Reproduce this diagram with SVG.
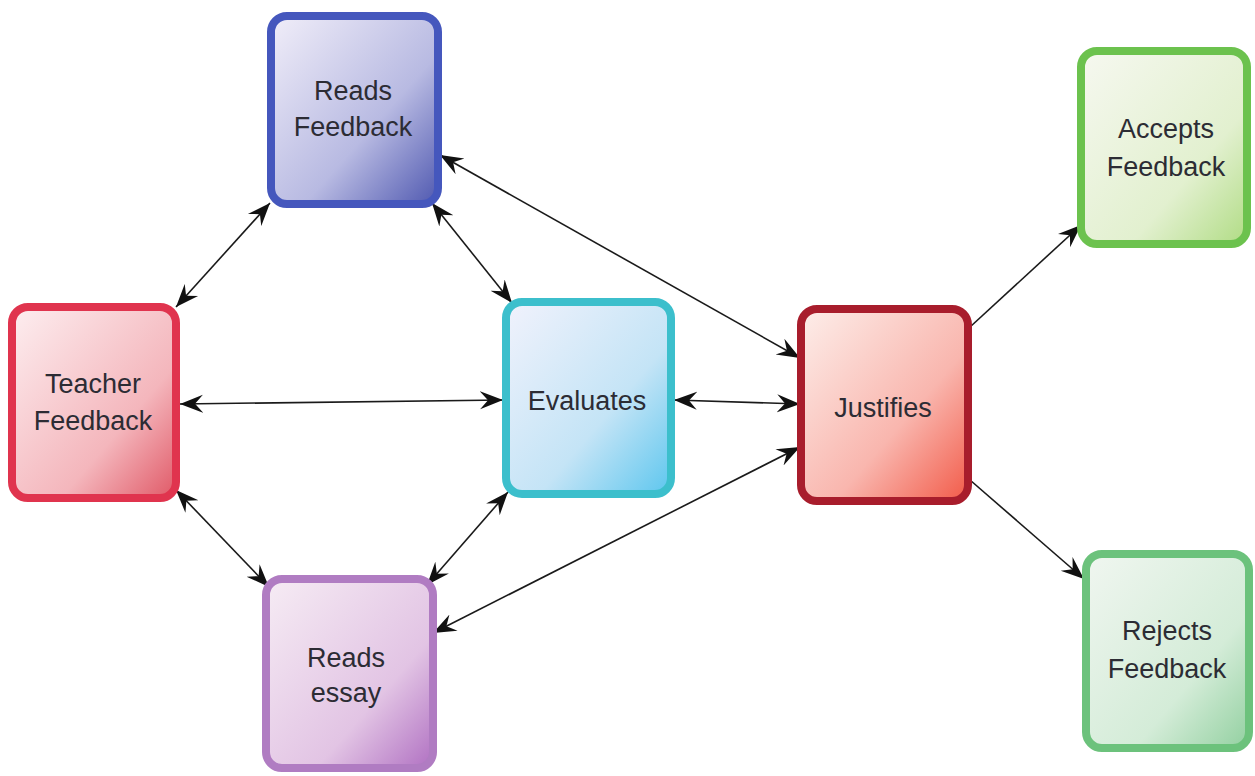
<svg xmlns="http://www.w3.org/2000/svg" width="1255" height="776" viewBox="0 0 1255 776">
<style>
.box{stroke-width:8}
.lbl{font-family:"Liberation Sans",Arial,sans-serif;font-size:27px;fill:#2c2c34;text-anchor:middle}
.edge{stroke:#1a1a1a;stroke-width:1.6;fill:none}
</style>
<defs>
<marker id="ah" viewBox="-23 -10 23 20" refX="0" refY="0" markerWidth="23" markerHeight="20" markerUnits="userSpaceOnUse" orient="auto-start-reverse">
<path d="M0,0 L-23,-9 L-15,0 L-23,9 Z" fill="#111"/>
</marker>
<linearGradient id="gBlue" x1="0" y1="0" x2="1" y2="1"><stop offset="0" stop-color="#f1eef9"/><stop offset="0.6" stop-color="#b8bae2"/><stop offset="1" stop-color="#4f58b0"/></linearGradient>
<linearGradient id="gRed" x1="0" y1="0" x2="1" y2="1"><stop offset="0" stop-color="#fdeef0"/><stop offset="0.65" stop-color="#f4b6bc"/><stop offset="1" stop-color="#e05866"/></linearGradient>
<linearGradient id="gCyan" x1="0" y1="0" x2="1" y2="1"><stop offset="0" stop-color="#f1f2fc"/><stop offset="0.6" stop-color="#c4e4f6"/><stop offset="1" stop-color="#5cc6ee"/></linearGradient>
<linearGradient id="gPurple" x1="0" y1="0" x2="1" y2="1"><stop offset="0" stop-color="#f6ecf4"/><stop offset="0.65" stop-color="#e2c4e4"/><stop offset="1" stop-color="#b070c2"/></linearGradient>
<linearGradient id="gJust" x1="0" y1="0" x2="1" y2="1"><stop offset="0" stop-color="#fdeeea"/><stop offset="0.6" stop-color="#f9b6ae"/><stop offset="1" stop-color="#f25a48"/></linearGradient>
<linearGradient id="gGreen1" x1="0" y1="0" x2="1" y2="1"><stop offset="0" stop-color="#f6f8f0"/><stop offset="0.65" stop-color="#e2f0cf"/><stop offset="1" stop-color="#b0dc84"/></linearGradient>
<linearGradient id="gGreen2" x1="0" y1="0" x2="1" y2="1"><stop offset="0" stop-color="#f0f6f0"/><stop offset="0.65" stop-color="#d4ecd8"/><stop offset="1" stop-color="#92d0a0"/></linearGradient>
</defs>
<rect width="1255" height="776" fill="#ffffff"/>
<g id="connectors">
<line class="edge" x1="270" y1="203" x2="176" y2="307" marker-start="url(#ah)" marker-end="url(#ah)"/>
<line class="edge" x1="180" y1="404" x2="503" y2="400" marker-start="url(#ah)" marker-end="url(#ah)"/>
<line class="edge" x1="176" y1="490" x2="269" y2="587" marker-start="url(#ah)" marker-end="url(#ah)"/>
<line class="edge" x1="432" y1="203" x2="512" y2="303" marker-start="url(#ah)" marker-end="url(#ah)"/>
<line class="edge" x1="440" y1="155" x2="800" y2="358" marker-start="url(#ah)" marker-end="url(#ah)"/>
<line class="edge" x1="674" y1="400" x2="800" y2="404" marker-start="url(#ah)" marker-end="url(#ah)"/>
<line class="edge" x1="508" y1="492" x2="427" y2="585" marker-start="url(#ah)" marker-end="url(#ah)"/>
<line class="edge" x1="800" y1="447" x2="433" y2="633" marker-start="url(#ah)" marker-end="url(#ah)"/>
<line class="edge" x1="970" y1="327" x2="1081" y2="225" marker-end="url(#ah)"/>
<line class="edge" x1="970" y1="480" x2="1084" y2="579" marker-end="url(#ah)"/>
</g>
<g id="reads-feedback">
<rect class="box" x="271" y="16" width="167" height="188" rx="16" fill="url(#gBlue)" stroke="#4557bd"/>
<text class="lbl" x="353" y="100">Reads</text>
<text class="lbl" x="353" y="136">Feedback</text>
</g>
<g id="teacher-feedback">
<rect class="box" x="12" y="307" width="164" height="191" rx="16" fill="url(#gRed)" stroke="#e0344e"/>
<text class="lbl" x="93" y="393">Teacher</text>
<text class="lbl" x="93" y="430">Feedback</text>
</g>
<g id="evaluates">
<rect class="box" x="506" y="302" width="165" height="192" rx="16" fill="url(#gCyan)" stroke="#3cbfcc"/>
<text class="lbl" x="587" y="410">Evaluates</text>
</g>
<g id="reads-essay">
<rect class="box" x="266" y="579" width="167" height="189" rx="16" fill="url(#gPurple)" stroke="#b07cc2"/>
<text class="lbl" x="346" y="667">Reads</text>
<text class="lbl" x="346" y="702">essay</text>
</g>
<g id="justifies">
<rect class="box" x="801" y="309" width="167" height="192" rx="16" fill="url(#gJust)" stroke="#a81d2c"/>
<text class="lbl" x="883" y="417">Justifies</text>
</g>
<g id="accepts-feedback">
<rect class="box" x="1081" y="51" width="166" height="193" rx="16" fill="url(#gGreen1)" stroke="#6cc24e"/>
<text class="lbl" x="1166" y="138">Accepts</text>
<text class="lbl" x="1166" y="176">Feedback</text>
</g>
<g id="rejects-feedback">
<rect class="box" x="1086" y="554" width="163" height="194" rx="16" fill="url(#gGreen2)" stroke="#6cc27c"/>
<text class="lbl" x="1167" y="640">Rejects</text>
<text class="lbl" x="1167" y="678">Feedback</text>
</g>
</svg>
